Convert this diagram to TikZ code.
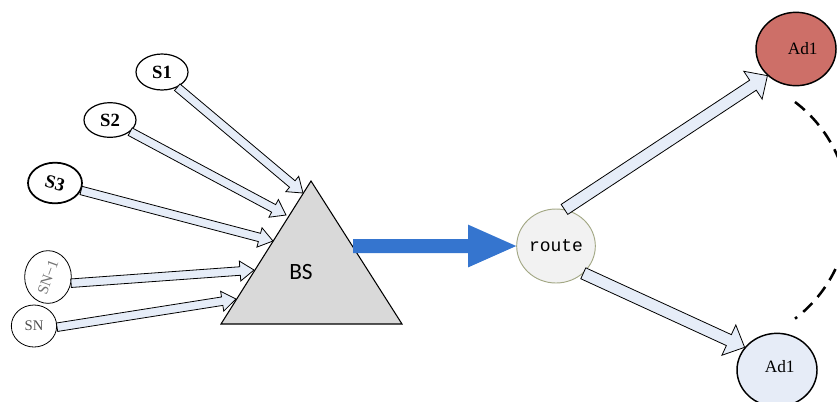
\documentclass[tikz,border=0pt]{standalone}
\usepackage{fontspec}
\setmainfont{Liberation Serif}
\setsansfont{Carlito}
\setmonofont{Liberation Mono}
\usepackage{graphicx}
\usetikzlibrary{calc,shapes.geometric}
\definecolor{arrowfill}{HTML}{E6EDF8}
\definecolor{bsgray}{HTML}{D9D9D9}
\definecolor{flowblue}{HTML}{3575CF}
\definecolor{routefill}{HTML}{F2F2F2}
\definecolor{routeline}{HTML}{A3A885}
\definecolor{adred}{HTML}{CD6F68}
\definecolor{adblue}{HTML}{E6ECF7}

% block arrow: style, from, to, shaft half width, head half width, head length
\newcommand{\blockarrow}[6]{%
  \draw[#1] let \p1=(#2), \p2=(#3), \p3=($(\p2)!#6!(\p1)$) in
    ($(\p1)!#4!90:(\p2)$) -- ($(\p3)!#4!90:(\p2)$) -- ($(\p3)!#5!90:(\p2)$)
    -- (\p2) -- ($(\p3)!#5!-90:(\p2)$) -- ($(\p3)!#4!-90:(\p2)$)
    -- ($(\p1)!#4!-90:(\p2)$) -- cycle;
}

\begin{document}
\begin{tikzpicture}[
    x=0.75pt, y=-0.75pt,
    sensor/.style={draw, ellipse, fill=white, line width=0.9pt, inner sep=0pt},
    slbl/.style={font=\fontsize{14}{16}\selectfont\bfseries},
    hollow/.style={draw, fill=arrowfill, line width=0.6pt, line join=miter},
    flow/.style={draw=none, fill=flowblue},
    adnode/.style={draw, ellipse, line width=1.1pt, minimum width=60pt, minimum height=55pt,
      inner sep=0pt, font=\fontsize{13}{15}\selectfont}
  ]
  \useasboundingbox (0,0) rectangle (837,401);

  % sensor nodes
  \node[sensor, slbl, minimum width=39pt, minimum height=27pt] (s1) at (162,72) {S1};
  \node[sensor, slbl, minimum width=39pt, minimum height=26pt] (s2) at (110,120) {S2};
  \node[sensor, slbl, line width=1.3pt, minimum width=40.5pt, minimum height=30.5pt] (s3) at (55,183) {\rotatebox{-15}{S3}};
  \node[sensor, line width=0.6pt, minimum width=35pt, minimum height=32pt, text=black!55,
    font=\fontsize{11.5}{13}\selectfont] (sn1) at (48,277) {\rotatebox{70}{SN−1}};
  \node[sensor, line width=0.6pt, minimum width=34pt, minimum height=31.5pt, text=black!70,
    font=\fontsize{11}{13}\selectfont] (sn) at (34,326) {SN};

  % base station
  \coordinate (apex) at (311,181);
  \coordinate (baseL) at (221,324);
  \coordinate (baseR) at (402,324);
  \draw[fill=bsgray, line width=0.8pt] (apex) -- (baseR) -- (baseL) -- cycle;
  \node[font=\sffamily\fontsize{17.5}{20}\selectfont] (bs) at (301,272) {BS};

  \coordinate (t1) at (303,193);
  \coordinate (t2) at (286,215);
  \coordinate (t3) at (273,241);
  \coordinate (t4) at (254,270);
  \coordinate (t5) at (236,299);
  \blockarrow{hollow}{s1.-45}{t1}{3.2pt}{7.5pt}{10.5pt}
  \blockarrow{hollow}{s2.-30}{t2}{3.2pt}{7.5pt}{10.5pt}
  \blockarrow{hollow}{s3.-16}{t3}{3.2pt}{7.5pt}{10.5pt}
  \blockarrow{hollow}{sn1.-15}{t4}{3.2pt}{7.5pt}{10.5pt}
  \blockarrow{hollow}{sn.-3}{t5}{3.2pt}{7.5pt}{10.5pt}

  % route and ad nodes
  \node[draw=routeline, fill=routefill, ellipse, line width=0.7pt, minimum width=59pt, minimum height=55.5pt,
    inner sep=0pt, font=\ttfamily\fontsize{13.5}{16}\selectfont] (route) at (556,246) {route};
  \coordinate (bsout) at (353,246);
  \blockarrow{flow}{bsout}{route.west}{5.25pt}{16pt}{36pt}

  \node[adnode, fill=adred] (adtop) at (796,49) {\hspace*{10pt}Ad1};
  \node[adnode, fill=adblue] (adbot) at (777,370) {\raisebox{6pt}{\hspace*{4pt}Ad1}};
  \blockarrow{hollow}{route.77}{adtop.-137}{4.5pt}{12.5pt}{13pt}
  \blockarrow{hollow}{route.-45}{adbot.145}{4.5pt}{12.5pt}{13pt}

  \coordinate (arctop) at (795,102);
  \draw[line width=1.9pt, dash pattern=on 9.5pt off 6pt] (arctop) arc[start angle=52.8, end angle=-52.8, radius=102pt];
\end{tikzpicture}
\end{document}
